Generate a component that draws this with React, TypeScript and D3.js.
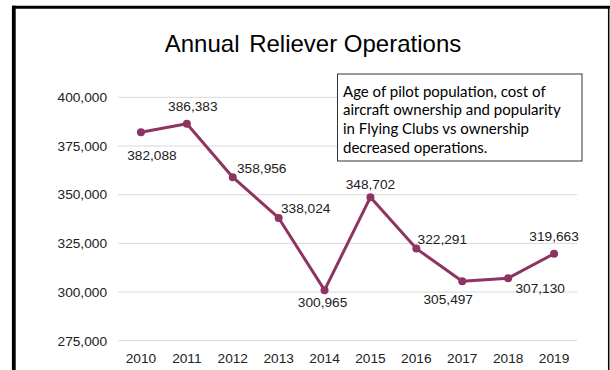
import React from "react";
import * as d3 from "d3";

const years = ["2010","2011","2012","2013","2014","2015","2016","2017","2018","2019"];
const operations = [382088, 386383, 358956, 338024, 300965, 348702, 322291, 305497, 307130, 319663];
const yTicks = [275000, 300000, 325000, 350000, 375000, 400000];
const titleWords = ["Annual", "Reliever Operations"];
const noteLines = [
  "Age of pilot population, cost of",
  "aircraft ownership and popularity",
  "in Flying Clubs vs ownership",
  "decreased operations.",
];
// label placement offsets (dx, dy) relative to each point
const labelOffsets: [number, number][] = [
  [11, 28], [6, -13], [29, -4], [27, -5], [-2, 17], [0, -8], [26, -5], [-14, 23], [32, 15], [0, -13],
];

const W = 610, H = 370;
const color = "#8E3463";

export default function App() {
  const x = d3.scaleBand<string>().domain(years).range([118, 577]);
  const y = d3.scaleLinear().domain([275000, 400000]).range([340.7, 97.3]);
  const fmt = d3.format(",");
  const line = d3
    .line<number>()
    .x((_, i) => (x(years[i]) as number) + x.bandwidth() / 2)
    .y((d) => y(d));
  const font = "Liberation Sans, Arial, sans-serif";
  return (
    <svg width={W} height={H} style={{ position: "absolute", left: 0, top: 0, background: "#fff" }}>
      <rect x={0} y={0} width={W} height={H} fill="#fff" />
      <defs>
        <clipPath id="noteclip">
          <rect x={337.5} y={74} width={244.5} height={87} />
        </clipPath>
      </defs>
      {/* frame */}
      <line x1={13.8} x2={13.8} y1={5.7} y2={H} stroke="#000" strokeWidth={3.8} />
      <line x1={12} x2={610} y1={7.2} y2={7.2} stroke="#000" strokeWidth={3} />
      <line x1={608.7} x2={608.7} y1={7} y2={H} stroke="#000" strokeWidth={1.5} />
      {/* title */}
      <text x={313} y={52} textAnchor="middle" fontFamily={font} fontSize={24} fill="#000">
        <tspan>{titleWords[0]}</tspan>
        <tspan dx={3}> {titleWords[1]}</tspan>
      </text>
      {/* gridlines & y ticks */}
      {yTicks.map((t) => (
        <g key={t}>
          <line x1={118} x2={577} y1={y(t)} y2={y(t)} stroke="#d9d9d9" strokeWidth={1} />
          <text x={107} y={y(t) + 4.8} textAnchor="end" fontFamily={font} fontSize={13.7} fill="#222">
            {fmt(t)}
          </text>
        </g>
      ))}
      {/* x labels */}
      {years.map((yr) => (
        <text key={yr} x={(x(yr) as number) + x.bandwidth() / 2} y={362.7} textAnchor="middle" fontFamily={font} fontSize={13.7} fill="#222">
          {yr}
        </text>
      ))}
      {/* line */}
      <path d={line(operations) || ""} fill="none" stroke={color} strokeWidth={3} strokeLinejoin="round" />
      {operations.map((v, i) => (
        <circle key={i} cx={(x(years[i]) as number) + x.bandwidth() / 2} cy={y(v)} r={4} fill={color} />
      ))}
      {/* data labels */}
      {operations.map((v, i) => (
        <text
          key={"l" + i}
          x={(x(years[i]) as number) + x.bandwidth() / 2 + labelOffsets[i][0]}
          y={y(v) + labelOffsets[i][1]}
          textAnchor="middle"
          fontFamily={font}
          fontSize={13.7}
          fill="#222"
        >
          {fmt(v)}
        </text>
      ))}
      {/* note box */}
      <rect x={337.5} y={74} width={244.5} height={87} fill="#fff" stroke="#333" strokeWidth={1} />
      <g clipPath="url(#noteclip)">
        {noteLines.map((l, i) => (
          <text key={i} x={343} y={96.5 + i * 18.7} fontFamily="Lato, sans-serif" fontSize={15} fill="#000">
            {l}
          </text>
        ))}
      </g>
    </svg>
  );
}
